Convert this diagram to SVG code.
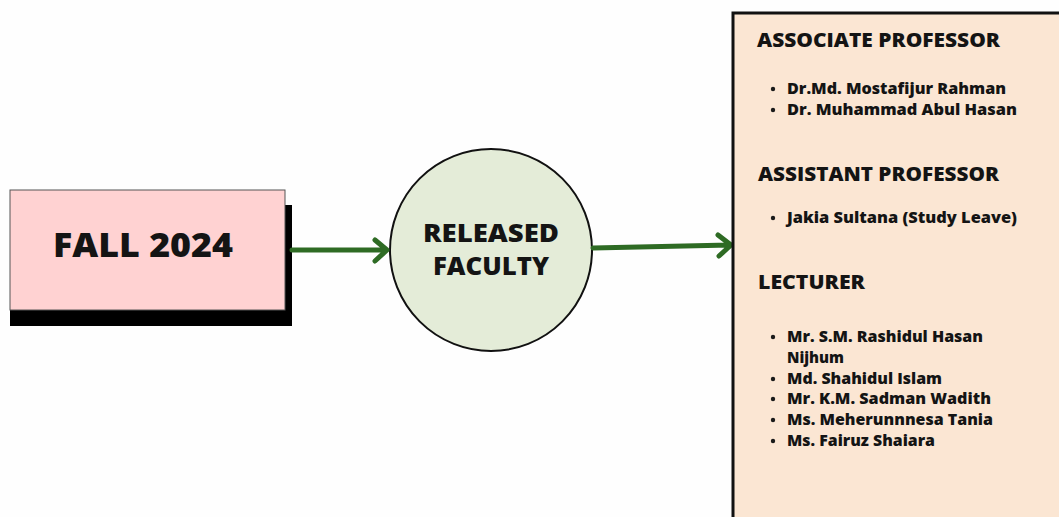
<svg xmlns="http://www.w3.org/2000/svg" width="1059" height="517" viewBox="0 0 1059 517">
<defs>
<style>
text{font-family:"Open Sans","DejaVu Sans",sans-serif;font-weight:800;fill:#141414}
.h{font-size:20px}
.li{font-size:16px}
.conn{stroke:#2e6b24;stroke-width:5;fill:none;stroke-linecap:round;stroke-linejoin:round}
.dot{fill:#1a1a1a}
</style>
</defs>
<rect width="1059" height="517" fill="#fefefe"/>
<g id="fall2024">
<rect x="10" y="205" width="282" height="121" fill="#000"/>
<rect x="10" y="190" width="275" height="120" fill="#ffd2d2" stroke="#555" stroke-width="1"/>
<text x="143" y="257" text-anchor="middle" font-size="34" textLength="180" lengthAdjust="spacingAndGlyphs">FALL 2024</text>
</g>
<g id="released">
<circle cx="491" cy="250" r="101" fill="#e4ecd8" stroke="#111" stroke-width="2"/>
<text x="491" y="242" text-anchor="middle" font-size="24" textLength="136" lengthAdjust="spacingAndGlyphs">RELEASED</text>
<text x="491" y="275" text-anchor="middle" font-size="24" textLength="116" lengthAdjust="spacingAndGlyphs">FACULTY</text>
</g>
<g id="connectors">
<path class="conn" d="M292 250 L386 250 M375 240 L387 250 L375 261"/>
<path class="conn" d="M593 248 L730 245 M718 235 L731 245 L719 256"/>
</g>
<g id="faculty-list">
<rect x="733" y="13" width="340" height="520" fill="#fbe6d3" stroke="#111" stroke-width="3"/>
<text class="h" x="757" y="47" textLength="243" lengthAdjust="spacingAndGlyphs">ASSOCIATE PROFESSOR</text>
<circle class="dot" cx="773" cy="89" r="2.2"/>
<text class="li" x="787" y="94" textLength="219" lengthAdjust="spacingAndGlyphs">Dr.Md. Mostafijur Rahman</text>
<circle class="dot" cx="773" cy="110" r="2.2"/>
<text class="li" x="787" y="115" textLength="230" lengthAdjust="spacingAndGlyphs">Dr. Muhammad Abul Hasan</text>
<text class="h" x="758" y="181" textLength="241" lengthAdjust="spacingAndGlyphs">ASSISTANT PROFESSOR</text>
<circle class="dot" cx="773" cy="218" r="2.2"/>
<text class="li" x="787" y="223" textLength="230" lengthAdjust="spacingAndGlyphs">Jakia Sultana (Study Leave)</text>
<text class="h" x="758" y="289" textLength="107" lengthAdjust="spacingAndGlyphs">LECTURER</text>
<circle class="dot" cx="773" cy="337" r="2.2"/>
<text class="li" x="787" y="342" textLength="196" lengthAdjust="spacingAndGlyphs">Mr. S.M. Rashidul Hasan</text>
<text class="li" x="787" y="363" textLength="57" lengthAdjust="spacingAndGlyphs">Nijhum</text>
<circle class="dot" cx="773" cy="379" r="2.2"/>
<text class="li" x="787" y="384" textLength="155" lengthAdjust="spacingAndGlyphs">Md. Shahidul Islam</text>
<circle class="dot" cx="773" cy="399" r="2.2"/>
<text class="li" x="787" y="404" textLength="204" lengthAdjust="spacingAndGlyphs">Mr. K.M. Sadman Wadith</text>
<circle class="dot" cx="773" cy="420" r="2.2"/>
<text class="li" x="787" y="425" textLength="206" lengthAdjust="spacingAndGlyphs">Ms. Meherunnnesa Tania</text>
<circle class="dot" cx="773" cy="441" r="2.2"/>
<text class="li" x="787" y="446" textLength="148" lengthAdjust="spacingAndGlyphs">Ms. Fairuz Shaiara</text>
</g>
</svg>
